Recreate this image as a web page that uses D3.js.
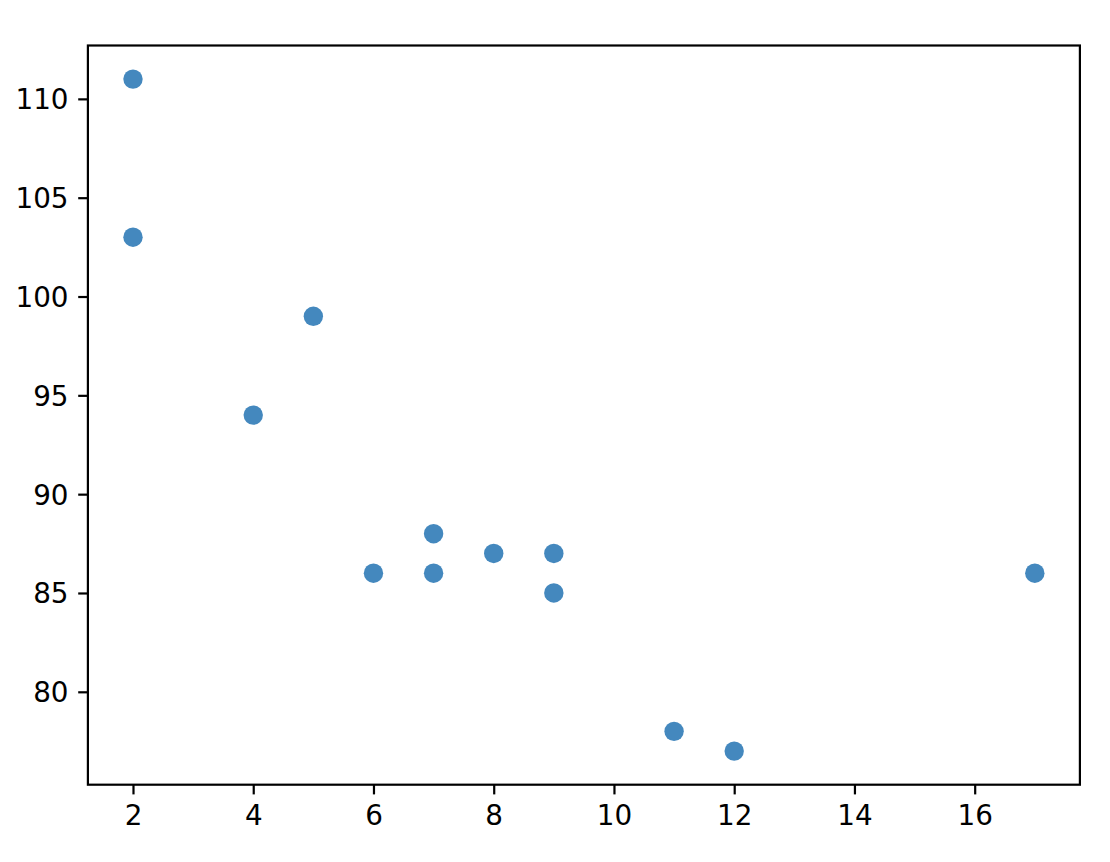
<!DOCTYPE html>
<html>
  <head>
    <meta charset="utf-8">
    <title>Scatter</title>
    <script src="https://cdn.jsdelivr.net/npm/d3@7"></script>
    <style>
      body { margin: 0; background: white; }
      svg { display: block; }
      .tick text { font-family: 'DejaVu Sans', sans-serif; font-size: 27.8px; fill: black; }
      .tick line { stroke: black; stroke-width: 2.2; }
      .domain { display: none; }
    </style>
  </head>
  <body>
    <svg></svg>
    <script>
      let xValues = [5, 7, 8, 7, 2, 17, 2, 9, 4, 11, 12, 9, 6];
      let yValues = [99, 86, 87, 88, 111, 86, 103, 87, 94, 78, 77, 85, 86];
      let xTicks = [2, 4, 6, 8, 10, 12, 14, 16];
      let yTicks = [80, 85, 90, 95, 100, 105, 110];

      let w = 1110, h = 862;
      let plot = {left: 87.9, top: 45.5, width: 992, height: 739.2};

      let svg = d3.select("svg")
                  .attr("width", w)
                  .attr("height", h);

      let x = d3.scaleLinear()
                .domain([1.25, 17.75])
                .range([plot.left, plot.left + plot.width]);

      let y = d3.scaleLinear()
                .domain([75.3, 112.7])
                .range([plot.top + plot.height, plot.top]);

      //axes
      svg.append("g")
         .attr("transform", `translate(0,${plot.top + plot.height})`)
         .call(d3.axisBottom(x).tickValues(xTicks).tickSize(9.7).tickPadding(9.7))
         .selectAll("text").attr("dy", "0.76em");

      svg.append("g")
         .attr("transform", `translate(${plot.left},0)`)
         .call(d3.axisLeft(y).tickValues(yTicks).tickSize(9.7).tickPadding(9.7))
         .selectAll("text").attr("dy", "0.36em");

      //points
      let data = xValues.map((d, i) => ({x: d, y: yValues[i]}));
      svg.selectAll(".dot")
         .data(data)
         .enter()
         .append("circle")
         .attr("class", "dot")
         .attr("cx", d => x(d.x))
         .attr("cy", d => y(d.y))
         .attr("r", 9.7)
         .attr("fill", "#4488be");

      //frame
      svg.append("rect")
         .attr("x", plot.left)
         .attr("y", plot.top)
         .attr("width", plot.width)
         .attr("height", plot.height)
         .attr("fill", "none")
         .attr("stroke", "black")
         .attr("stroke-width", 2.2);
    </script>
  </body>
</html>
